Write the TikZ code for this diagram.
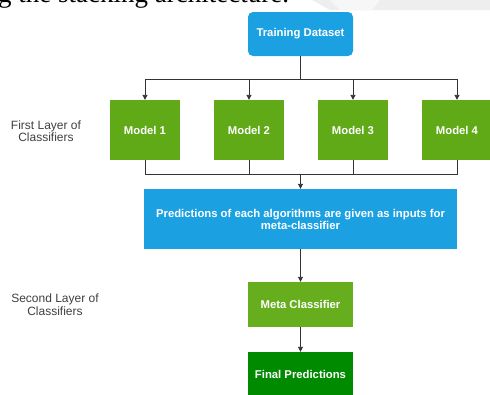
\documentclass[tikz,border=0pt]{standalone}
\usepackage{fontspec}
\setmainfont{Liberation Sans}
\newfontfamily\serifface{Liberation Serif}
\usetikzlibrary{arrows.meta}
\definecolor{dioblue}{HTML}{1BA1E2}
\definecolor{diogreen}{HTML}{60A917}
\definecolor{diometa}{HTML}{66AE1E}
\definecolor{diodark}{HTML}{008A00}
\definecolor{lineg}{HTML}{333333}
\definecolor{labg}{HTML}{404040}
\tikzset{
  box/.style={draw=none, text=white, font=\bfseries\fontsize{11.3}{12}\selectfont, align=center, inner sep=0pt},
  bluebox/.style={box, fill=dioblue},
  greenbox/.style={box, fill=diogreen, minimum width=70pt, minimum height=60pt},
  conn/.style={draw=lineg, line width=0.9pt},
  arr/.style={conn, -{Triangle[length=5pt,width=5pt]}},
  sidelabel/.style={text=labg, font=\fontsize{12}{12.5}\selectfont, align=center, inner sep=0pt}
}
\begin{document}
\begin{tikzpicture}[x=1pt,y=-1pt]
\useasboundingbox (0,0) rectangle (490,394);
\fill[white] (0,0) rectangle (490,394);
\begin{scope}
\clip (0,0) rectangle (490,394);
% watermark remnant
\fill[gray!13] (312,0) -- (490,0) -- (490,10) -- (330,10) -- cycle;
\fill[gray!6] (330,0) -- (380,0) -- (372,10) -- (340,10) -- cycle;
% cropped page text
\node[anchor=base west, inner sep=0pt, font=\serifface\fontsize{27}{27}\selectfont] (toptext) at (-2,2.5) {g the stacking architecture.};
% nodes
\node[bluebox, rounded corners=5pt, minimum width=105pt, minimum height=44pt] (td) at (300.5,34) {Training Dataset};
\node[greenbox] (m1) at (145,130) {Model 1};
\node[greenbox] (m2) at (249,130) {Model 2};
\node[greenbox] (m3) at (353,130) {Model 3};
\node[greenbox] (m4) at (457,130) {Model 4};
\node[bluebox, minimum width=313pt, minimum height=60pt] (pred) at (300.5,219) {Predictions of each algorithms are given as inputs for\\meta-classifier};
\node[box, fill=diometa, minimum width=105pt, minimum height=45pt] (meta) at (300.5,304.5) {Meta Classifier};
\node[box, fill=diodark, minimum width=105pt, minimum height=45pt] (fin) at (300.5,374.5) {Final Predictions};
% labels
\node[sidelabel] (l1) at (46,131) {First Layer of\\Classifiers};
\node[sidelabel] (l2) at (55,304.5) {Second Layer of\\Classifiers};
% connectors
\coordinate (j1) at (300.5,79);
\coordinate (j2) at (300.5,174);
\draw[conn] (td.south) -- (j1);
\draw[arr] (j1) -| (m1.north);
\draw[arr] (j1) -| (m2.north);
\draw[arr] (j1) -| (m3.north);
\draw[arr] (j1) -| (m4.north);
\draw[conn] (m1.south) |- (j2);
\draw[conn] (m2.south) |- (j2);
\draw[conn] (m3.south) |- (j2);
\draw[conn] (m4.south) |- (j2);
\draw[arr] (j2) -- (pred.north);
\draw[arr] (pred.south) -- (meta.north);
\draw[arr] (meta.south) -- (fin.north);
\end{scope}
\end{tikzpicture}
\end{document}
